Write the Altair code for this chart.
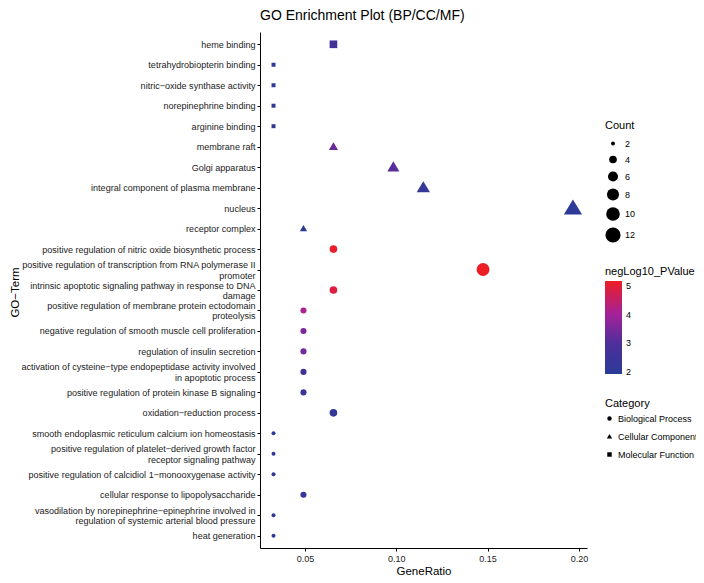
import altair as alt
import pandas as pd

terms = [
    "heme binding",
    "tetrahydrobiopterin binding",
    "nitric−oxide synthase activity",
    "norepinephrine binding",
    "arginine binding",
    "membrane raft",
    "Golgi apparatus",
    "integral component of plasma membrane",
    "nucleus",
    "receptor complex",
    "positive regulation of nitric oxide biosynthetic process",
    "positive regulation of transcription from RNA polymerase II|promoter",
    "intrinsic apoptotic signaling pathway in response to DNA|damage",
    "positive regulation of membrane protein ectodomain|proteolysis",
    "negative regulation of smooth muscle cell proliferation",
    "regulation of insulin secretion",
    "activation of cysteine−type endopeptidase activity involved|in apoptotic process",
    "positive regulation of protein kinase B signaling",
    "oxidation−reduction process",
    "smooth endoplasmic reticulum calcium ion homeostasis",
    "positive regulation of platelet−derived growth factor|receptor signaling pathway",
    "positive regulation of calcidiol 1−monooxygenase activity",
    "cellular response to lipopolysaccharide",
    "vasodilation by norepinephrine−epinephrine involved in|regulation of systemic arterial blood pressure",
    "heat generation",
]

categories = (
    ["Molecular Function"] * 5
    + ["Cellular Component"] * 5
    + ["Biological Process"] * 15
)

counts = [4, 2, 2, 2, 2, 4, 6, 7, 12, 3, 4, 9, 4, 3, 3, 3, 3, 3, 4, 2, 2, 2, 3, 2, 2]

gene_ratio = [0.0656, 0.0328, 0.0328, 0.0328, 0.0328,
              0.0656, 0.0984, 0.1148, 0.1967, 0.0492,
              0.0656, 0.1475, 0.0656, 0.0492, 0.0492,
              0.0492, 0.0492, 0.0492, 0.0656, 0.0328,
              0.0328, 0.0328, 0.0492, 0.0328, 0.0328]

neglog10_p = [2.7, 2.05, 2.05, 2.05, 2.05,
              3.3, 3.1, 2.2, 2.05, 2.0,
              5.1, 5.17, 4.9, 4.1, 3.5,
              3.4, 2.7, 2.4, 2.2, 2.0,
              2.0, 2.0, 2.3, 1.95, 1.95]

category_domain = ["Biological Process", "Cellular Component", "Molecular Function"]
color_stops = [1.93, 3.0, 4.0, 5.17]
color_range = ["#2a3b98", "#4f2f9a", "#a3229a", "#ee1d25"]
TRIANGLE = "M0,-1.15L1.2,0.85L-1.2,0.85Z"

df = pd.DataFrame({
    "Term": terms,
    "Category": categories,
    "Count": counts,
    "GeneRatio": gene_ratio,
    "negLog10_PValue": neglog10_p,
})

FONT = "Liberation Sans"

chart = alt.Chart(df).mark_point(filled=True, opacity=1, strokeWidth=0).encode(
    x=alt.X(
        "GeneRatio:Q",
        scale=alt.Scale(domain=[0.0254, 0.2044], nice=False, zero=False),
        axis=alt.Axis(values=[0.05, 0.1, 0.15, 0.2], format=".2f", title="GeneRatio",
                      grid=False, tickSize=3, labelPadding=3, titlePadding=2,
                      labelFontSize=9, titleFontSize=11.5),
    ),
    y=alt.Y(
        "Term:N",
        sort=terms,
        scale=alt.Scale(padding=0.6),
        axis=alt.Axis(labelExpr="split(datum.label, '|')", title="GO−Term",
                      grid=False, tickSize=3, labelPadding=2, labelLineHeight=10.5,
                      labelOffset={"condition": {"test": "indexof(datum.label, '|') >= 0", "value": -5},
                                   "value": 0},
                      labelFontSize=9.05, titleFontSize=11.5, labelLimit=400,
                      titleX=-245, titleY=260, titleAlign="center",
                      titleBaseline="middle", titleAngle=270),
    ),
    size=alt.Size(
        "Count:Q",
        scale=alt.Scale(domain=[2, 12], range=[16, 230], zero=False),
        legend=alt.Legend(values=[2, 4, 6, 8, 10, 12], orient="none", legendX=345, legendY=88,
                          symbolFillColor="black", symbolStrokeWidth=0, rowPadding=6,
                          titlePadding=8, symbolType="circle"),
    ),
    color=alt.Color(
        "negLog10_PValue:Q",
        scale=alt.Scale(domain=color_stops, range=color_range, interpolate="rgb"),
        legend=alt.Legend(title="negLog10_PValue", orient="none", legendX=345, legendY=234,
                          gradientLength=93, gradientThickness=17, values=[2, 3, 4, 5],
                          titlePadding=4, labelOffset=4, gradientStrokeWidth=0),
    ),
    shape=alt.Shape(
        "Category:N",
        scale=alt.Scale(domain=category_domain, range=["circle", TRIANGLE, "square"]),
        legend=alt.Legend(orient="none", legendX=345, legendY=366, symbolSize=20,
                          symbolFillColor="black", symbolStrokeWidth=0, rowPadding=8,
                          titlePadding=5),
    ),
).properties(
    width=327,
    height=516,
    title=alt.TitleParams("GO Enrichment Plot (BP/CC/MF)", anchor="start", frame="group",
                          fontSize=14, fontWeight="normal", font=FONT, color="black",
                          offset=9),
    padding={"left": 252, "top": 24, "right": 109, "bottom": 27},
    autosize=alt.AutoSizeParams(type="none"),
).configure_view(
    stroke=None
).configure_axis(
    domainColor="black", tickColor="black", labelColor="#222222", titleColor="black",
    labelFont=FONT, titleFont=FONT, titleFontWeight="normal", domainWidth=1,
).configure_legend(
    titleFont=FONT, labelFont=FONT, titleFontSize=11, labelFontSize=9,
    titleFontWeight="normal", titleColor="black", labelColor="black",
)

chart.save("out.html", embed_options={"renderer": "svg", "actions": False})
